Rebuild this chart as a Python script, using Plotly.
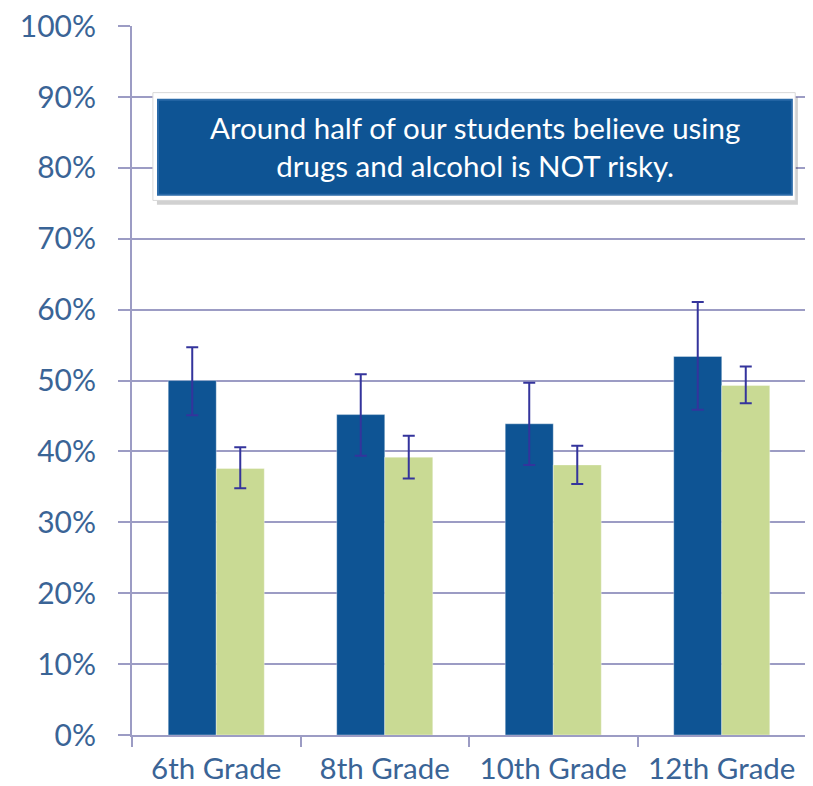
import plotly.graph_objects as go

grades = ["6th Grade", "8th Grade", "10th Grade", "12th Grade"]

local_values = [50.0, 45.2, 43.9, 53.4]
local_upper = [54.7, 50.9, 49.7, 61.1]
local_lower = [45.1, 39.4, 38.1, 45.9]

comparison_values = [37.6, 39.2, 38.1, 49.3]
comparison_upper = [40.6, 42.2, 40.8, 52.0]
comparison_lower = [34.8, 36.2, 35.4, 46.8]

y_tick_values = [0, 10, 20, 30, 40, 50, 60, 70, 80, 90, 100]
y_tick_labels = ["0%", "10%", "20%", "30%", "40%", "50%", "60%", "70%", "80%", "90%", "100%"]

callout_text = "Around half of our students believe using<br>drugs and alcohol is NOT risky."

AXIS_COLOR = "#9C9CC4"
TEXT_COLOR = "#3A6496"
ERR_COLOR = "#34349C"
FONT = "Lato"

fig = go.Figure()

def add_series(name, vals, up, lo, color):
    fig.add_trace(go.Bar(
        x=grades, y=vals, name=name,
        marker=dict(color=color, line=dict(color="rgba(255,255,255,0.35)", width=1)),
        error_y=dict(
            type="data", symmetric=False,
            array=[u - v for u, v in zip(up, vals)],
            arrayminus=[v - l for v, l in zip(vals, lo)],
            color=ERR_COLOR, thickness=2, width=6,
        ),
    ))

add_series("Our Students", local_values, local_upper, local_lower, "#0E5494")
add_series("Comparison", comparison_values, comparison_upper, comparison_lower, "#C9DA94")

fig.update_layout(
    width=813, height=778,
    margin=dict(l=124, r=15, t=18, b=51),
    paper_bgcolor="white", plot_bgcolor="white",
    barmode="group", bargap=0.43, bargroupgap=0,
    showlegend=False,
    font=dict(family=FONT, color=TEXT_COLOR),
    xaxis=dict(
        showline=True, linecolor=AXIS_COLOR, linewidth=2,
        ticks="outside", tickson="boundaries", ticklen=10, tickwidth=2, tickcolor=AXIS_COLOR,
        tickfont=dict(size=29.5, color=TEXT_COLOR, family=FONT),
        showgrid=False, ticklabelstandoff=7, automargin=False,
        ticklabeloverflow="allow",
    ),
    yaxis=dict(
        range=[0, 100.02], tickmode="array", tickvals=y_tick_values, ticktext=y_tick_labels,
        showline=True, linecolor=AXIS_COLOR, linewidth=2,
        ticks="outside", ticklen=12, tickwidth=2, tickcolor=AXIS_COLOR,
        showgrid=True, gridcolor=AXIS_COLOR, gridwidth=2,
        zeroline=False,
        tickfont=dict(size=30, color=TEXT_COLOR, family=FONT),
        ticklabelstandoff=16, automargin=False,
        ticklabeloverflow="allow",
    ),
)

# callout box: shadow, white border, blue fill
fig.add_shape(type="rect", xref="paper", yref="paper", x0=0.037, x1=0.988, y0=0.748, y1=0.899,
              fillcolor="rgba(0,0,0,0.18)", line=dict(width=0), layer="above")
fig.add_shape(type="rect", xref="paper", yref="paper", x0=0.031, x1=0.984, y0=0.754, y1=0.906,
              fillcolor="white", line=dict(color="#D8D8D8", width=1), layer="above")
fig.add_shape(type="rect", xref="paper", yref="paper", x0=0.0386, x1=0.979, y0=0.762, y1=0.896,
              fillcolor="#0E5494", line=dict(color="#2A6AA8", width=2), layer="above")
fig.add_annotation(xref="paper", yref="paper", x=0.509, y=0.83, text=callout_text,
                   showarrow=False, font=dict(family=FONT, size=29.5, color="white"),
                   align="center", xanchor="center", yanchor="middle")

fig.write_html("out.html")
